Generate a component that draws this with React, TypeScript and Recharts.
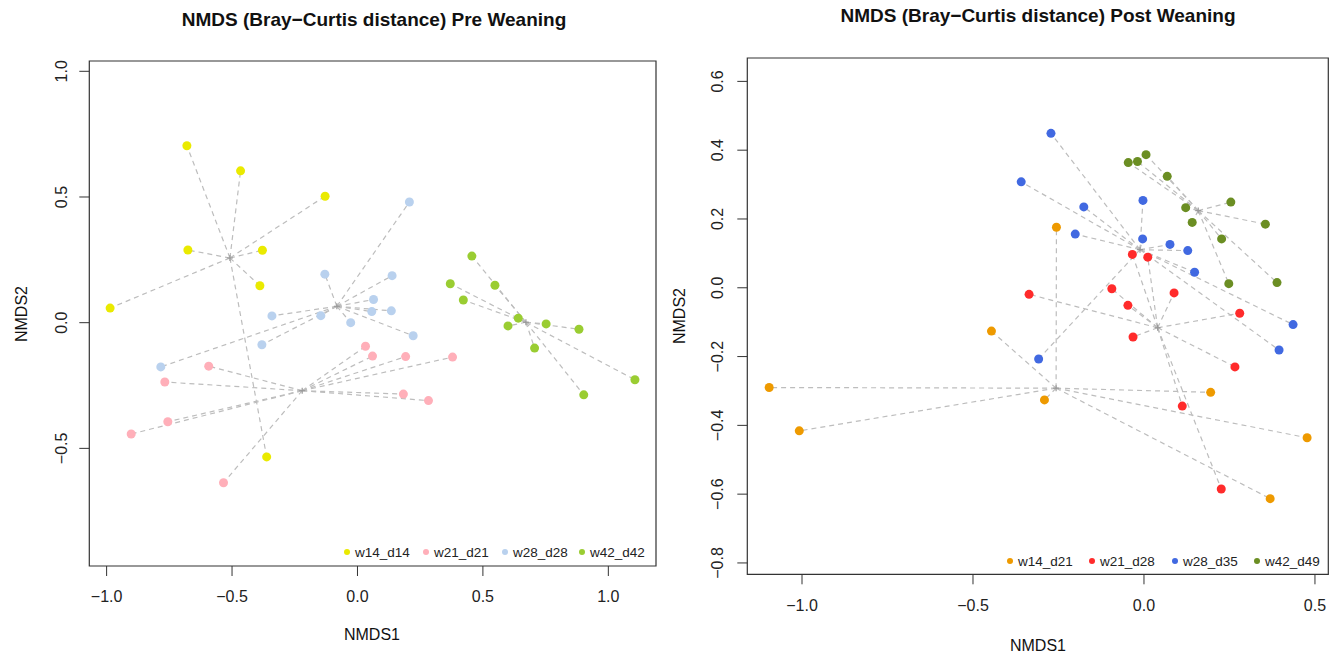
import React from "react";
import {
  ScatterChart,
  Scatter,
  XAxis,
  YAxis,
  ReferenceLine,
  ReferenceArea,
} from "recharts";

// ---- Pre weaning ----
const preW14 = [
  { x: -0.68, y: 0.704 }, { x: -0.466, y: 0.604 }, { x: -0.129, y: 0.503 },
  { x: -0.676, y: 0.289 }, { x: -0.379, y: 0.288 }, { x: -0.389, y: 0.147 },
  { x: -0.986, y: 0.058 }, { x: -0.362, y: -0.534 },
];
const preW21 = [
  { x: 0.032, y: -0.094 }, { x: 0.06, y: -0.133 }, { x: 0.192, y: -0.135 },
  { x: 0.379, y: -0.137 }, { x: 0.183, y: -0.284 }, { x: 0.283, y: -0.31 },
  { x: -0.593, y: -0.173 }, { x: -0.768, y: -0.236 }, { x: -0.756, y: -0.394 },
  { x: -0.902, y: -0.443 }, { x: -0.534, y: -0.637 },
];
const preW28 = [
  { x: 0.207, y: 0.48 }, { x: 0.138, y: 0.187 }, { x: 0.064, y: 0.092 },
  { x: 0.057, y: 0.044 }, { x: 0.135, y: 0.047 }, { x: -0.027, y: 0.0 },
  { x: 0.222, y: -0.052 }, { x: -0.13, y: 0.193 }, { x: -0.341, y: 0.027 },
  { x: -0.146, y: 0.028 }, { x: -0.381, y: -0.088 }, { x: -0.784, y: -0.176 },
];
const preW42 = [
  { x: 0.456, y: 0.265 }, { x: 0.37, y: 0.155 }, { x: 0.548, y: 0.149 },
  { x: 0.422, y: 0.09 }, { x: 0.641, y: 0.018 }, { x: 0.6, y: -0.013 },
  { x: 0.752, y: -0.005 }, { x: 0.883, y: -0.026 }, { x: 0.706, y: -0.101 },
  { x: 1.106, y: -0.227 }, { x: 0.902, y: -0.287 },
];

// ---- Post weaning (right panel) ----
const postW14 = [
  { x: -0.256, y: 0.176 }, { x: -0.446, y: -0.126 }, { x: -1.096, y: -0.29 },
  { x: -1.008, y: -0.416 }, { x: -0.291, y: -0.326 }, { x: 0.195, y: -0.304 },
  { x: 0.477, y: -0.436 }, { x: 0.369, y: -0.613 },
];
const postW21 = [
  { x: -0.034, y: 0.097 }, { x: 0.011, y: 0.089 }, { x: -0.094, y: -0.003 },
  { x: 0.088, y: -0.015 }, { x: -0.336, y: -0.019 }, { x: -0.047, y: -0.051 },
  { x: 0.28, y: -0.074 }, { x: -0.032, y: -0.143 }, { x: 0.266, y: -0.23 },
  { x: 0.112, y: -0.344 }, { x: 0.226, y: -0.585 },
];
const postW28 = [
  { x: -0.272, y: 0.449 }, { x: -0.359, y: 0.308 }, { x: -0.176, y: 0.235 },
  { x: -0.003, y: 0.254 }, { x: -0.201, y: 0.156 }, { x: -0.004, y: 0.142 },
  { x: 0.076, y: 0.126 }, { x: 0.128, y: 0.108 }, { x: 0.148, y: 0.045 },
  { x: 0.436, y: -0.107 }, { x: 0.395, y: -0.181 }, { x: -0.308, y: -0.207 },
];
const postW42 = [
  { x: -0.046, y: 0.364 }, { x: -0.019, y: 0.367 }, { x: 0.006, y: 0.387 },
  { x: 0.068, y: 0.324 }, { x: 0.254, y: 0.249 }, { x: 0.122, y: 0.233 },
  { x: 0.141, y: 0.19 }, { x: 0.355, y: 0.185 }, { x: 0.227, y: 0.142 },
  { x: 0.248, y: 0.012 }, { x: 0.389, y: 0.015 },
];

const preLabels = ["w14_d14", "w21_d21", "w28_d28", "w42_d42"];
const postLabels = ["w14_d21", "w21_d28", "w28_d35", "w42_d49"];
const preColors = ["#EAEA00", "#FFAFB9", "#B9D1EE", "#9ACD32"];
const postColors = ["#EE9A00", "#FF2B2B", "#4169E1", "#6B8E23"];

const preXTicks = [-1, -0.5, 0, 0.5, 1];
const preYTicks = [-0.5, 0, 0.5, 1];
const postXTicks = [-1, -0.5, 0, 0.5];
const postYTicks = [-0.8, -0.6, -0.4, -0.2, 0, 0.2, 0.4, 0.6];

const FONT = '"Liberation Sans", Arial, Helvetica, sans-serif';
const fmt = (v: number) => v.toFixed(1).replace("-", "\u2212");

type Pt = { x: number; y: number };

const centroid = (pts: Pt[]): Pt => ({
  x: pts.reduce((s, p) => s + p.x, 0) / pts.length,
  y: pts.reduce((s, p) => s + p.y, 0) / pts.length,
});

interface PanelProps {
  left: number;
  width: number;
  groups: Pt[][];
  colors: string[];
  xDomain: [number, number];
  yDomain: [number, number];
  xTicks: number[];
  yTicks: number[];
  margin: { top: number; right: number; bottom: number; left: number };
  yTickMargin: number;
}

function Panel({
  left,
  width,
  groups,
  colors,
  xDomain,
  yDomain,
  xTicks,
  yTicks,
  margin,
  yTickMargin,
}: PanelProps) {
  const cents = groups.map(centroid);
  return (
    <div style={{ position: "absolute", left, top: 0 }}>
      <ScatterChart width={width} height={656} margin={margin}>
        <XAxis
          type="number"
          dataKey="x"
          domain={xDomain}
          ticks={xTicks}
          allowDataOverflow
          axisLine={false}
          tickLine={{ stroke: "#333" }}
          tickSize={10}
          tickMargin={15}
          height={60}
          interval={0}
          tickFormatter={fmt}
          tick={{ fill: "#222", fontSize: 16, fontFamily: FONT }}
        />
        <YAxis
          type="number"
          dataKey="y"
          domain={yDomain}
          ticks={yTicks}
          allowDataOverflow
          axisLine={false}
          tickLine={{ stroke: "#333" }}
          tickSize={10}
          tickMargin={yTickMargin}
          width={60}
          interval={0}
          tick={(p: any) => (
            <text
              x={p.x}
              y={p.y}
              transform={`rotate(-90 ${p.x} ${p.y})`}
              textAnchor="middle"
              fill="#222"
              fontSize={16}
              fontFamily={FONT}
            >
              {fmt(p.payload.value)}
            </text>
          )}
        />
        <ReferenceArea
          x1={xDomain[0]}
          x2={xDomain[1]}
          y1={yDomain[0]}
          y2={yDomain[1]}
          fill="none"
          fillOpacity={0}
          stroke="#333"
          strokeWidth={1.2}
          ifOverflow="visible"
        />
        {groups.map((pts, gi) =>
          pts.map((p, i) => (
            <ReferenceLine
              key={`l${gi}-${i}`}
              segment={[
                { x: cents[gi].x, y: cents[gi].y },
                { x: p.x, y: p.y },
              ]}
              stroke="#BDBDBD"
              strokeWidth={1.2}
              strokeDasharray="5 4"
              ifOverflow="visible"
            />
          ))
        )}
        <Scatter
          data={cents}
          isAnimationActive={false}
          shape={(p: any) => (
            <g stroke="#9a9a9a" strokeWidth={1.2}>
              <line x1={p.cx - 3} y1={p.cy} x2={p.cx + 3} y2={p.cy} />
              <line x1={p.cx} y1={p.cy - 3} x2={p.cx} y2={p.cy + 3} />
            </g>
          )}
        />
        {groups.map((pts, gi) => (
          <Scatter
            key={`s${gi}`}
            data={pts}
            isAnimationActive={false}
            shape={(p: any) => (
              <circle cx={p.cx} cy={p.cy} r={4.5} fill={colors[gi]} />
            )}
          />
        ))}
      </ScatterChart>
    </div>
  );
}

function Text({
  x,
  y,
  children,
  size = 16,
  bold = false,
  rotate = false,
}: {
  x: number;
  y: number;
  children: React.ReactNode;
  size?: number;
  bold?: boolean;
  rotate?: boolean;
}) {
  return (
    <div
      style={{
        position: "absolute",
        left: x - 250,
        top: y - size / 2,
        width: 500,
        height: size,
        lineHeight: `${size}px`,
        textAlign: "center",
        fontSize: size,
        fontWeight: bold ? "bold" : "normal",
        fontFamily: FONT,
        color: "#111",
        whiteSpace: "nowrap",
        transform: rotate ? "rotate(-90deg)" : undefined,
      }}
    >
      {children}
    </div>
  );
}

function LegendRow({
  x,
  y,
  labels,
  colors,
}: {
  x: number[];
  y: number;
  labels: string[];
  colors: string[];
}) {
  return (
    <>
      {labels.map((l, i) => (
        <div
          key={l}
          style={{
            position: "absolute",
            left: x[i] - 3,
            top: y - 9,
            height: 18,
            display: "flex",
            alignItems: "center",
            fontFamily: FONT,
            fontSize: 13.5,
            color: "#222",
            whiteSpace: "nowrap",
          }}
        >
          <span
            style={{
              width: 6,
              height: 6,
              borderRadius: 3,
              background: colors[i],
              marginRight: 5,
              display: "inline-block",
            }}
          />
          {l}
        </div>
      ))}
    </>
  );
}

export default function App() {
  return (
    <div
      style={{
        position: "absolute",
        left: 0,
        top: 0,
        width: 1329,
        height: 656,
        background: "#fff",
        overflow: "hidden",
      }}
    >
      <Panel
        left={0}
        width={670}
        groups={[preW14, preW21, preW28, preW42]}
        colors={preColors}
        xDomain={[-1.069, 1.19]}
        yDomain={[-0.968, 1.041]}
        xTicks={preXTicks}
        yTicks={preYTicks}
        margin={{ top: 61, right: 14, bottom: 30, left: 29.3 }}
        yTickMargin={12.6}
      />
      <Panel
        left={670}
        width={659}
        groups={[postW14, postW21, postW28, postW42]}
        colors={postColors}
        xDomain={[-1.16, 0.539]}
        yDomain={[-0.833, 0.668]}
        xTicks={postXTicks}
        yTicks={postYTicks}
        margin={{ top: 58, right: 0.7, bottom: 21.7, left: 17.3 }}
        yTickMargin={14.6}
      />
      <Text x={374} y={19} size={19} bold>
        NMDS (Bray{"\u2212"}Curtis distance) Pre Weaning
      </Text>
      <Text x={1038} y={15} size={19} bold>
        NMDS (Bray{"\u2212"}Curtis distance) Post Weaning
      </Text>
      <Text x={372} y={635}>NMDS1</Text>
      <Text x={1038} y={646}>NMDS1</Text>
      <Text x={22} y={314} rotate>
        NMDS2
      </Text>
      <Text x={680} y={316} rotate>
        NMDS2
      </Text>
      <LegendRow
        x={[347, 426, 505, 582]}
        y={552}
        labels={preLabels}
        colors={preColors}
      />
      <LegendRow
        x={[1010, 1092, 1175, 1257]}
        y={561}
        labels={postLabels}
        colors={postColors}
      />
    </div>
  );
}
